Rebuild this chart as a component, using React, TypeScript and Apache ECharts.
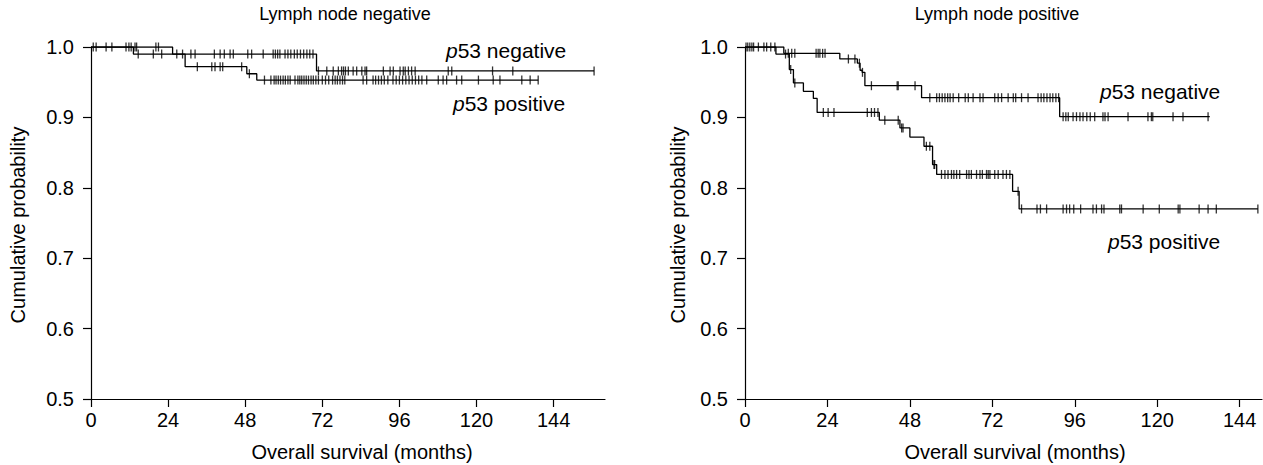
import React, { useEffect, useRef } from "react";
import * as echarts from "echarts";

// ---- Data (months, cumulative probability) ----
// Left panel: Lymph node negative
const leftNegSteps: [number, number][] = [
  [0, 1.0], [25.4, 0.99], [70.2, 0.966], [156.6, 0.966],
];
const leftNegCensor: number[] = [
  1.6, 6.5, 11.8, 13.7, 14.2, 20.2, 21.0,
  28.5, 31.1, 32.4, 38.4, 40.2, 41.5, 43.3, 44.3, 48.8, 50, 53.6, 56.7, 57.4, 58.1, 58.8,
  60.4, 61.3, 62.2, 63.3, 64.2, 65.2, 66.2, 67.2, 68.1, 69.1,
  70.8, 73.4, 75.4, 77, 78, 78.6, 79.2, 80.1, 81.6, 82.7, 84.3, 85.3, 85.8, 91, 93.1, 94.1,
  96.2, 97.2, 97.8, 98.8, 99.8, 100.9, 111.2, 112.3, 125, 131.3, 156.6,
];
const leftPosSteps: [number, number][] = [
  [0, 1.0], [13.2, 0.99], [29.3, 0.972], [48.5, 0.962], [51.6, 0.953], [139.2, 0.953],
];
const leftPosCensor: number[] = [
  0.7, 4.7, 10.9, 12.5,
  14.7, 19.4, 22.0, 26.7,
  33.1, 37.6, 38.6, 40.2, 41.0, 46.9, 49.3,
  54, 56, 57, 57.6, 58.3, 59, 59.8, 60.5, 61.3, 62, 63.5, 64.4, 65, 65.6, 66.3, 67, 67.7,
  68.5, 69.2, 70, 70.8, 72, 73, 74, 75.2, 76, 76.7, 77.5, 78.3, 79, 84.7, 85.8, 87.8, 88.6,
  89.5, 90.4, 91.3, 92.4, 94, 95, 96, 97, 98, 99, 100, 101, 102, 103, 104.5, 108.1, 109.6,
  110.7, 113.8, 115.4, 120.6, 125.2, 127.3, 134.1, 136.7, 139.2,
];

// Right panel: Lymph node positive
const rightNegSteps: [number, number][] = [
  [0, 1.0], [11.3, 0.991], [27.6, 0.983], [32.7, 0.977], [33.5, 0.967], [34.1, 0.964],
  [34.9, 0.945], [51.4, 0.928], [91.6, 0.901], [135.3, 0.901],
];
const rightNegCensor: number[] = [
  0.3, 1.4, 2.5, 5.5, 7.5,
  12.6, 13.6, 14.5, 20.7, 21.3, 21.8, 22.6, 23.3, 30.1, 32.0, 33.3, 34.2,
  36.8, 44.3, 44.6, 49.5,
  53.8, 55.8, 56.6, 57.4, 58.2, 59.0, 59.7, 60.6, 62.2, 64.1, 65.0, 66.4, 68.4, 69.3, 72.7,
  73.7, 74.7, 76.6, 78.1, 78.8, 80.5, 82.4, 85.3, 86.2, 87.0, 87.9, 88.8, 89.6, 90.5, 91.3,
  92.6, 93.4, 94.1, 95.5, 96.5, 97.5, 98.4, 99.5, 100.5, 101.8, 104.2, 104.8, 105.7, 111.5,
  117.3, 118.3, 118.7, 124.6, 127.5, 134.8,
];
const rightPosSteps: [number, number][] = [
  [0, 1.0], [9.0, 0.99], [12.9, 0.968], [14.1, 0.949], [17.0, 0.937], [19.9, 0.927],
  [21.0, 0.907], [39.1, 0.896], [45.1, 0.885], [48.0, 0.872], [52.1, 0.859], [54.6, 0.833],
  [55.8, 0.819], [77.9, 0.795], [79.8, 0.77], [149.3, 0.77],
];
const rightPosCensor: number[] = [
  0.8, 2.0, 3.9, 6.3, 8.7, 11.8, 13.3, 14.5,
  22.8, 24.2, 25.9, 35.6, 36.8, 37.7, 38.7, 40.7, 44.6, 45.6, 46.0,
  52.8, 53.8, 55.0, 55.2,
  57.2, 58.2, 59.1, 60.1, 60.8, 61.6, 62.5, 64.5, 65.2, 65.9, 67.4, 68.4, 69.1, 70.3, 70.8,
  71.3, 72.7, 73.7, 75.1, 76.1, 77.1, 79.5,
  80.5, 85.0, 86.0, 87.8, 92.6, 93.6, 94.5, 95.7, 97.7, 101.3, 102.3, 103.8, 104.5, 109.1,
  109.6, 115.9, 120.6, 126.1, 126.6, 132.2, 134.8, 137.2, 149.3,
];

const xTicksLeftMax = 160;
const xTicksRightMax = 150.5;
const FONT = "'Liberation Sans', Arial, sans-serif";

function survAt(steps: [number, number][], t: number): number {
  let s = steps[0][1];
  for (const [tt, v] of steps) {
    if (tt <= t + 1e-9) s = v;
  }
  return s;
}

const lineSeries = (steps: [number, number][], idx: number) => ({
  type: "line",
  xAxisIndex: idx,
  yAxisIndex: idx,
  step: "end",
  symbol: "none",
  data: steps,
  lineStyle: { color: "#000", width: 1.3 },
  z: 3,
});

const censorSeries = (steps: [number, number][], censor: number[], idx: number) => ({
  type: "scatter",
  xAxisIndex: idx,
  yAxisIndex: idx,
  symbol: "rect",
  symbolSize: [1.3, 9],
  itemStyle: { color: "#000" },
  data: censor.map((t) => [t, survAt(steps, t)]),
  z: 4,
});

const xAxisCfg = (idx: number, max: number) => ({
  type: "value",
  gridIndex: idx,
  min: 0,
  max,
  interval: 24,
  axisLine: { show: true, lineStyle: { color: "#000", width: 1.2 } },
  axisTick: { show: true, length: 8, lineStyle: { color: "#000", width: 1.2 } },
  axisLabel: {
    color: "#000", fontSize: 20, fontFamily: FONT, margin: 11,
    showMaxLabel: false,
  },
  splitLine: { show: false },
});

const yAxisCfg = (idx: number) => ({
  type: "value",
  gridIndex: idx,
  min: 0.5,
  max: 1.0,
  interval: 0.1,
  axisLine: { show: true, lineStyle: { color: "#000", width: 1.2 } },
  axisTick: { show: true, length: 8, lineStyle: { color: "#000", width: 1.2 } },
  axisLabel: {
    color: "#000", fontSize: 20, fontFamily: FONT, margin: 17,
    formatter: (v: number) => v.toFixed(1),
  },
  splitLine: { show: false },
});

const txt = (x: number, y: number, text: string, size: number, extra: any = {}) => ({
  type: "text",
  x,
  y,
  style: {
    text,
    fontSize: size,
    fontFamily: FONT,
    fill: "#000",
    align: "center",
    verticalAlign: "middle",
    ...extra,
  },
});

const richLabel = (x: number, y: number, rest: string) => ({
  type: "text",
  x,
  y,
  style: {
    text: `{i|p}{n|${rest}}`,
    fill: "#000",
    align: "left",
    verticalAlign: "middle",
    rich: {
      i: { fontSize: 21, fontFamily: FONT, fontStyle: "italic", fill: "#000" },
      n: { fontSize: 21, fontFamily: FONT, fill: "#000" },
    },
  },
});

export default function App() {
  const ref = useRef<HTMLDivElement>(null);
  useEffect(() => {
    if (!ref.current) return;
    const chart = echarts.init(ref.current, null, { renderer: "svg" });
    chart.setOption({
      animation: false,
      backgroundColor: "#fff",
      grid: [
        { left: 91, top: 47, width: 514, height: 352 },
        { left: 745, top: 47, width: 517, height: 352 },
      ],
      xAxis: [xAxisCfg(0, xTicksLeftMax), xAxisCfg(1, xTicksRightMax)],
      yAxis: [yAxisCfg(0), yAxisCfg(1)],
      series: [
        lineSeries(leftNegSteps, 0),
        lineSeries(leftPosSteps, 0),
        censorSeries(leftNegSteps, leftNegCensor, 0),
        censorSeries(leftPosSteps, leftPosCensor, 0),
        lineSeries(rightNegSteps, 1),
        lineSeries(rightPosSteps, 1),
        censorSeries(rightNegSteps, rightNegCensor, 1),
        censorSeries(rightPosSteps, rightPosCensor, 1),
      ],
      graphic: [
        txt(345, 14, "Lymph node negative", 18),
        txt(997, 14, "Lymph node positive", 18),
        txt(362, 452, "Overall survival (months)", 20),
        txt(1015, 452, "Overall survival (months)", 20),
        { ...txt(18, 225, "Cumulative probability", 20), rotation: Math.PI / 2 },
        { ...txt(678, 225, "Cumulative probability", 20), rotation: Math.PI / 2 },
        richLabel(446, 50, "53 negative"),
        richLabel(453, 103, "53 positive"),
        richLabel(1100, 91, "53 negative"),
        richLabel(1108, 241, "53 positive"),
      ],
    });
    return () => chart.dispose();
  }, []);
  return (
    <div
      ref={ref}
      style={{ position: "fixed", left: 0, top: 0, width: 1263, height: 465, background: "#fff" }}
    />
  );
}
